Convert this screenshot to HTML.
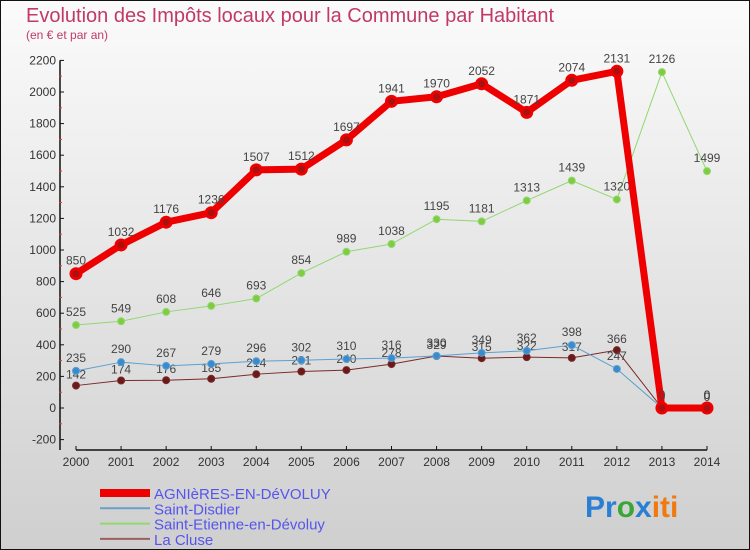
<!DOCTYPE html>
<html><head><meta charset="utf-8"><style>
html,body{margin:0;padding:0}
body{width:750px;height:550px;overflow:hidden;font-family:"Liberation Sans",sans-serif}
svg{display:block}
</style></head><body>
<svg id="chart" width="750" height="550" xmlns="http://www.w3.org/2000/svg">
<defs><linearGradient id="bg" x1="0" y1="0" x2="0" y2="1"><stop offset="0" stop-color="#fbfbfb"/><stop offset="1" stop-color="#cfcfcf"/></linearGradient></defs>
<rect x="0.5" y="0.5" width="749" height="549" fill="url(#bg)" stroke="#111"/>
<text x="26" y="22" font-size="20" fill="#c0396a">Evolution des Impôts locaux pour la Commune par Habitant</text>
<text x="26" y="39" font-size="12" fill="#c0396a">(en € et par an)</text>
<g id="axes"></g><g id="series"></g><g id="legend"></g>
<text x="585" y="517" font-size="30" font-weight="bold"><tspan fill="#2a7fd4">Pr</tspan><tspan fill="#3aa63a">o</tspan><tspan fill="#2a7fd4">x</tspan><tspan fill="#f07a10">iti</tspan></text>
</svg>
<script>
const years=[2000,2001,2002,2003,2004,2005,2006,2007,2008,2009,2010,2011,2012,2013,2014];
const yTicks=[-200,0,200,400,600,800,1000,1200,1400,1600,1800,2000,2200];
const agnieres=[850,1032,1176,1236,1507,1512,1697,1941,1970,2052,1871,2074,2131,0,0];
const saintDisdier=[235,290,267,279,296,302,310,316,330,349,362,398,247,0,0];
const saintEtienne=[525,549,608,646,693,854,989,1038,1195,1181,1313,1439,1320,2126,1499];
const laCluse=[142,174,176,185,214,231,240,278,329,315,322,317,366,0,0];
const NS="http://www.w3.org/2000/svg";
function xs(i){return 76+i*(707-76)/(years.length-1);}
function ys(v){return 408-v*(316/2000);}
function mk(tag,attrs,parent){const e=document.createElementNS(NS,tag);for(const k in attrs)e.setAttribute(k,attrs[k]);parent.appendChild(e);return e;}
const axes=document.getElementById('axes');
const yAxis=mk('line',{x1:60,y1:ys(2200),x2:60,y2:450,stroke:'#111','stroke-width':1.5},axes);


const xAxis=mk('line',{x1:76,y1:450,x2:707,y2:450,stroke:'#111','stroke-width':1.5},axes);


yTicks.forEach(t=>{
  const y=ys(t);
  mk('line',{x1:60,y1:y,x2:64,y2:y,stroke:'#111'},axes);
  if(t<2200){mk('line',{x1:59,y1:y-15.8,x2:62,y2:y-15.8,stroke:'#e33'},axes);}
  const tx=mk('text',{x:56,y:y+4,'font-size':12,'text-anchor':'end',fill:'#333'},axes);
  tx.textContent=t;
  
  
});
years.forEach((yr,i)=>{
  const x=xs(i);
  mk('line',{x1:x,y1:446,x2:x,y2:450,stroke:'#111'},axes);
  const tx=mk('text',{x:x,y:466,'font-size':12,'text-anchor':'middle',fill:'#333'},axes);
  tx.textContent=yr;
  
  
});
const ser=document.getElementById('series');
function drawSeries(name,data,color,w,r,dotFill,labelDy){
  const g=mk('g',{},ser);
  
  
  const pts=data.map((v,i)=>xs(i)+','+ys(v)).join(' ');
  const pl=mk('polyline',{points:pts,fill:'none',stroke:color,'stroke-width':w,'stroke-linejoin':'round'},g);
  
  
  data.forEach((v,i)=>{
    const c=mk('circle',{cx:xs(i),cy:ys(v),r:r,fill:dotFill,stroke:color,'stroke-width':w>4?3:1},g);
    
    
    const t=mk('text',{x:xs(i),y:ys(v)+labelDy,'font-size':12,'text-anchor':'middle',fill:'#444'},g);
    t.textContent=v;
    
    
  });
}
drawSeries('la-cluse',laCluse,'#7a2a2a',1,3.5,'#6a1a1a',-7);
drawSeries('saint-disdier',saintDisdier,'#5aa0d0',1,3.5,'#3a8ad0',-9);
drawSeries('saint-etienne',saintEtienne,'#90d870',1,3.5,'#80cc40',-9);
drawSeries('agnieres',agnieres,'#ee0000',7,5,'#aa1010',-9);
const lg=document.getElementById('legend');
const items=[['AGNIèRES-EN-DéVOLUY','#ee0000',8],['Saint-Disdier','#6aa0c8',2],['Saint-Etienne-en-Dévoluy','#90d870',2],['La Cluse','#9a6060',2]];
items.forEach((it,i)=>{
  const y=493+i*15.3;
  const g=mk('g',{},lg);
  
  
  mk('line',{x1:100,y1:y,x2:150,y2:y,stroke:it[1],'stroke-width':it[2]},g);
  const t=mk('text',{x:154,y:y+6,'font-size':15,fill:'#5555ee'},g);
  t.textContent=it[0];
});
</script>
</body></html>
